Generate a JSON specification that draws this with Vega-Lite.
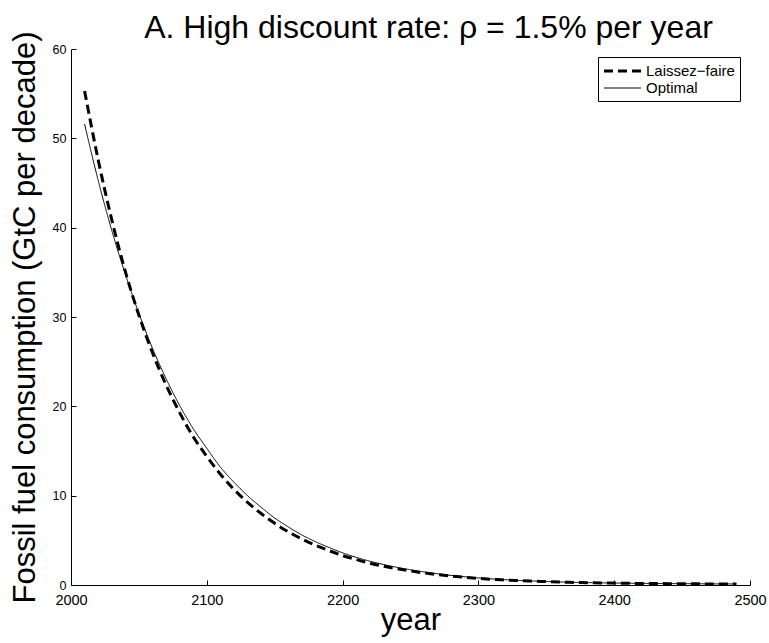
{
  "$schema": "https://vega.github.io/schema/vega-lite/v6.json",
  "width": 679,
  "height": 536,
  "autosize": {"type": "none"},
  "padding": {"left": 71, "top": 49, "right": 19, "bottom": 58},
  "background": "white",
  "config": {"view": {"stroke": null}, "font": "Liberation Sans"},
  "title": {"text": "A. High discount rate: ρ = 1.5% per year", "fontSize": 32, "fontWeight": "normal", "color": "black", "anchor": "middle", "frame": "group", "baseline": "alphabetic", "offset": 16, "dy": 55, "dx": 18},
  "data": {"values": [
    {"year": 2010, "value": 55.3, "series": "Laissez−faire"},
    {"year": 2020, "value": 47.6, "series": "Laissez−faire"},
    {"year": 2030, "value": 40.9, "series": "Laissez−faire"},
    {"year": 2040, "value": 35.1, "series": "Laissez−faire"},
    {"year": 2050, "value": 30.2, "series": "Laissez−faire"},
    {"year": 2060, "value": 26.0, "series": "Laissez−faire"},
    {"year": 2070, "value": 22.4, "series": "Laissez−faire"},
    {"year": 2080, "value": 19.3, "series": "Laissez−faire"},
    {"year": 2090, "value": 16.6, "series": "Laissez−faire"},
    {"year": 2100, "value": 14.4, "series": "Laissez−faire"},
    {"year": 2110, "value": 12.4, "series": "Laissez−faire"},
    {"year": 2120, "value": 10.7, "series": "Laissez−faire"},
    {"year": 2130, "value": 9.25, "series": "Laissez−faire"},
    {"year": 2140, "value": 8.0, "series": "Laissez−faire"},
    {"year": 2150, "value": 6.9, "series": "Laissez−faire"},
    {"year": 2160, "value": 5.95, "series": "Laissez−faire"},
    {"year": 2170, "value": 5.15, "series": "Laissez−faire"},
    {"year": 2180, "value": 4.45, "series": "Laissez−faire"},
    {"year": 2190, "value": 3.85, "series": "Laissez−faire"},
    {"year": 2200, "value": 3.3, "series": "Laissez−faire"},
    {"year": 2210, "value": 2.85, "series": "Laissez−faire"},
    {"year": 2220, "value": 2.45, "series": "Laissez−faire"},
    {"year": 2230, "value": 2.1, "series": "Laissez−faire"},
    {"year": 2240, "value": 1.82, "series": "Laissez−faire"},
    {"year": 2250, "value": 1.57, "series": "Laissez−faire"},
    {"year": 2260, "value": 1.35, "series": "Laissez−faire"},
    {"year": 2270, "value": 1.16, "series": "Laissez−faire"},
    {"year": 2280, "value": 1.0, "series": "Laissez−faire"},
    {"year": 2290, "value": 0.86, "series": "Laissez−faire"},
    {"year": 2300, "value": 0.74, "series": "Laissez−faire"},
    {"year": 2310, "value": 0.64, "series": "Laissez−faire"},
    {"year": 2320, "value": 0.56, "series": "Laissez−faire"},
    {"year": 2330, "value": 0.49, "series": "Laissez−faire"},
    {"year": 2340, "value": 0.43, "series": "Laissez−faire"},
    {"year": 2350, "value": 0.38, "series": "Laissez−faire"},
    {"year": 2360, "value": 0.33, "series": "Laissez−faire"},
    {"year": 2370, "value": 0.29, "series": "Laissez−faire"},
    {"year": 2380, "value": 0.26, "series": "Laissez−faire"},
    {"year": 2390, "value": 0.23, "series": "Laissez−faire"},
    {"year": 2400, "value": 0.21, "series": "Laissez−faire"},
    {"year": 2410, "value": 0.19, "series": "Laissez−faire"},
    {"year": 2420, "value": 0.17, "series": "Laissez−faire"},
    {"year": 2430, "value": 0.16, "series": "Laissez−faire"},
    {"year": 2440, "value": 0.15, "series": "Laissez−faire"},
    {"year": 2450, "value": 0.14, "series": "Laissez−faire"},
    {"year": 2460, "value": 0.13, "series": "Laissez−faire"},
    {"year": 2470, "value": 0.12, "series": "Laissez−faire"},
    {"year": 2480, "value": 0.12, "series": "Laissez−faire"},
    {"year": 2490, "value": 0.11, "series": "Laissez−faire"},
    {"year": 2010, "value": 51.6, "series": "Optimal"},
    {"year": 2020, "value": 45.3, "series": "Optimal"},
    {"year": 2030, "value": 39.7, "series": "Optimal"},
    {"year": 2040, "value": 34.8, "series": "Optimal"},
    {"year": 2050, "value": 30.4, "series": "Optimal"},
    {"year": 2060, "value": 26.5, "series": "Optimal"},
    {"year": 2070, "value": 23.1, "series": "Optimal"},
    {"year": 2080, "value": 20.1, "series": "Optimal"},
    {"year": 2090, "value": 17.5, "series": "Optimal"},
    {"year": 2100, "value": 15.3, "series": "Optimal"},
    {"year": 2110, "value": 13.2, "series": "Optimal"},
    {"year": 2120, "value": 11.5, "series": "Optimal"},
    {"year": 2130, "value": 10.0, "series": "Optimal"},
    {"year": 2140, "value": 8.7, "series": "Optimal"},
    {"year": 2150, "value": 7.5, "series": "Optimal"},
    {"year": 2160, "value": 6.5, "series": "Optimal"},
    {"year": 2170, "value": 5.6, "series": "Optimal"},
    {"year": 2180, "value": 4.85, "series": "Optimal"},
    {"year": 2190, "value": 4.2, "series": "Optimal"},
    {"year": 2200, "value": 3.6, "series": "Optimal"},
    {"year": 2210, "value": 3.1, "series": "Optimal"},
    {"year": 2220, "value": 2.67, "series": "Optimal"},
    {"year": 2230, "value": 2.3, "series": "Optimal"},
    {"year": 2240, "value": 1.98, "series": "Optimal"},
    {"year": 2250, "value": 1.7, "series": "Optimal"},
    {"year": 2260, "value": 1.46, "series": "Optimal"},
    {"year": 2270, "value": 1.25, "series": "Optimal"},
    {"year": 2280, "value": 1.07, "series": "Optimal"},
    {"year": 2290, "value": 0.92, "series": "Optimal"},
    {"year": 2300, "value": 0.79, "series": "Optimal"},
    {"year": 2310, "value": 0.68, "series": "Optimal"},
    {"year": 2320, "value": 0.59, "series": "Optimal"},
    {"year": 2330, "value": 0.51, "series": "Optimal"},
    {"year": 2340, "value": 0.45, "series": "Optimal"},
    {"year": 2350, "value": 0.39, "series": "Optimal"},
    {"year": 2360, "value": 0.34, "series": "Optimal"},
    {"year": 2370, "value": 0.3, "series": "Optimal"},
    {"year": 2380, "value": 0.27, "series": "Optimal"},
    {"year": 2390, "value": 0.24, "series": "Optimal"},
    {"year": 2400, "value": 0.22, "series": "Optimal"},
    {"year": 2410, "value": 0.2, "series": "Optimal"},
    {"year": 2420, "value": 0.18, "series": "Optimal"},
    {"year": 2430, "value": 0.17, "series": "Optimal"},
    {"year": 2440, "value": 0.16, "series": "Optimal"},
    {"year": 2450, "value": 0.15, "series": "Optimal"},
    {"year": 2460, "value": 0.14, "series": "Optimal"},
    {"year": 2470, "value": 0.13, "series": "Optimal"},
    {"year": 2480, "value": 0.12, "series": "Optimal"},
    {"year": 2490, "value": 0.12, "series": "Optimal"}
  ]},
  "mark": {"type": "line", "color": "black", "interpolate": "monotone", "strokeCap": "butt"},
  "encoding": {
    "x": {
      "field": "year", "type": "quantitative",
      "scale": {"domain": [2000, 2500], "nice": false, "zero": false},
      "axis": {
        "values": [2000, 2100, 2200, 2300, 2400, 2500], "format": "d",
        "grid": false, "domainColor": "black", "tickColor": "black", "tickSize": -5,
        "labelPadding": 13, "labelFontSize": 14.5, "labelColor": "black", "labelFlush": false, "labelOverlap": false,
        "title": "year", "titleFontSize": 31, "titleFontWeight": "normal", "titleColor": "black",
        "titleX": 339.5, "titleY": 44, "titleBaseline": "alphabetic", "titleAlign": "center"
      }
    },
    "y": {
      "field": "value", "type": "quantitative",
      "scale": {"domain": [0, 60], "nice": false},
      "axis": {
        "values": [0, 10, 20, 30, 40, 50, 60],
        "grid": false, "domainColor": "black", "tickColor": "black", "tickSize": -5,
        "labelPadding": 10, "labelFontSize": 12.5, "labelColor": "black", "labelFlush": false, "labelOverlap": false,
        "title": "Fossil fuel consumption (GtC per decade)", "titleFontSize": 31, "titleFontWeight": "normal", "titleColor": "black",
        "titleX": -37, "titleY": 268, "titleAngle": -90, "titleBaseline": "alphabetic", "titleAlign": "center"
      }
    },
    "strokeDash": {
      "field": "series", "type": "nominal",
      "scale": {"domain": ["Laissez−faire", "Optimal"], "range": [[9, 5], [1, 0]]},
      "legend": {
        "title": null, "orient": "none", "legendX": 527, "legendY": 8,
        "strokeColor": "black", "fillColor": "white", "padding": 5,
        "labelFontSize": 15, "labelColor": "black", "symbolType": "M-1.07,0H3.87", "symbolSize": 225,
        "symbolStrokeColor": "black", "rowPadding": 1, "labelOffset": 25
      }
    },
    "strokeWidth": {
      "field": "series", "type": "nominal",
      "scale": {"domain": ["Laissez−faire", "Optimal"], "range": [3, 1]},
      "legend": {
        "title": null, "orient": "none", "legendX": 527, "legendY": 8,
        "strokeColor": "black", "fillColor": "white", "padding": 5,
        "labelFontSize": 15, "labelColor": "black", "symbolType": "M-1.07,0H3.87", "symbolSize": 225,
        "symbolStrokeColor": "black", "rowPadding": 1, "labelOffset": 25
      }
    }
  }
}
